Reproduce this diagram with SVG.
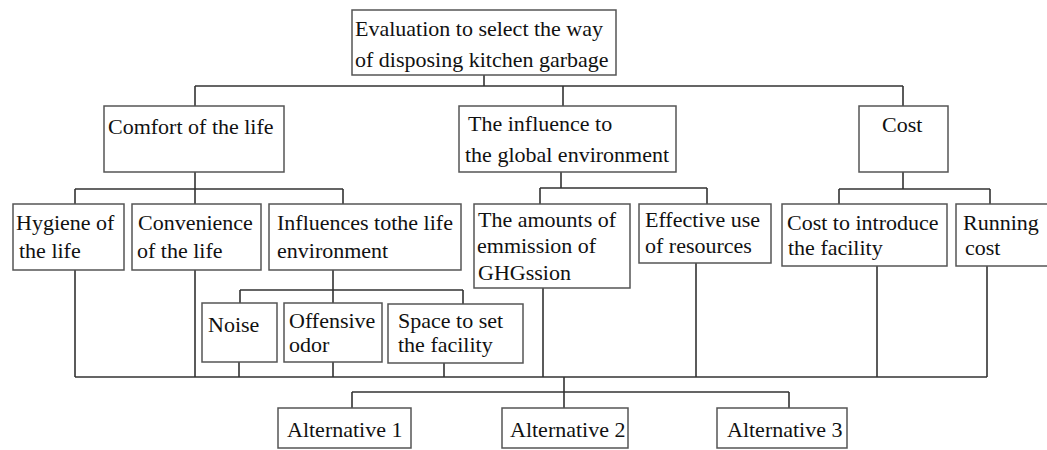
<svg xmlns="http://www.w3.org/2000/svg" width="1047" height="450" viewBox="0 0 1047 450">
<style>
.box{fill:#fff;stroke:#555;stroke-width:1.5}
.ln{fill:none;stroke:#333;stroke-width:1.6}
.t{font-size:22px;fill:#111}
</style>
<rect width="1047" height="450" fill="#fff"/>
<g id="connectors">
<path class="ln" d="M484 75V86M195 86H903M195 86V106M563 86V106M903 86V106"/>
<path class="ln" d="M195 172V189M75 189H343M75 189V204M195 189V204M343 189V204"/>
<path class="ln" d="M561 172V188M540 188H707M540 188V204M707 188V204"/>
<path class="ln" d="M903 172V189M839 189H990M839 189V204M990 189V204"/>
<path class="ln" d="M333 270V290M240 290H463M240 290V303M333 290V303M463 290V304"/>
<path class="ln" d="M75 270V377M195 270V377M239 362V377M333 362V377M444 363V377M543 288V377M696 263V377M877 266V377M987 266V377M75 377H987"/>
<path class="ln" d="M564 377V408M352 392H789M352 392V408M789 392V408"/>
</g>
<g class="t" font-family="'Liberation Serif', 'DejaVu Serif', serif">
<g id="n-goal"><rect class="box" x="352" y="10" width="264" height="65"/><text x="355" y="36">Evaluation to select the way</text><text x="355" y="67">of disposing kitchen garbage</text></g>
<g id="n-comfort"><rect class="box" x="104" y="106" width="180" height="66"/><text x="108" y="134">Comfort of the life</text></g>
<g id="n-global"><rect class="box" x="459" y="106" width="217" height="66"/><text x="468" y="131">The influence to</text><text x="465" y="162">the global environment</text></g>
<g id="n-cost"><rect class="box" x="859" y="106" width="89" height="66"/><text x="882" y="132">Cost</text></g>
<g id="n-hygiene"><rect class="box" x="13" y="204" width="111" height="66"/><text x="16" y="230">Hygiene of</text><text x="19" y="258">the life</text></g>
<g id="n-convenience"><rect class="box" x="132" y="204" width="129" height="66"/><text x="138" y="230">Convenience</text><text x="137" y="258">of the life</text></g>
<g id="n-influences"><rect class="box" x="269" y="204" width="192" height="66"/><text x="277" y="230">Influences tothe life</text><text x="277" y="258">environment</text></g>
<g id="n-ghg"><rect class="box" x="474" y="204" width="156" height="84"/><text x="478" y="227">The amounts of</text><text x="477" y="253">emmission of</text><text x="478" y="280">GHGssion</text></g>
<g id="n-effective"><rect class="box" x="639" y="204" width="132" height="59"/><text x="645" y="227">Effective use</text><text x="645" y="253">of resources</text></g>
<g id="n-introduce"><rect class="box" x="782" y="204" width="165" height="62"/><text x="787" y="230">Cost to introduce</text><text x="788" y="255">the facility</text></g>
<g id="n-running"><rect class="box" x="956" y="204" width="100" height="62"/><text x="963" y="230">Running</text><text x="965" y="255">cost</text></g>
<g id="n-noise"><rect class="box" x="202" y="303" width="75" height="59"/><text x="208" y="332">Noise</text></g>
<g id="n-odor"><rect class="box" x="284" y="303" width="98" height="59"/><text x="289" y="328">Offensive</text><text x="289" y="352">odor</text></g>
<g id="n-space"><rect class="box" x="388" y="304" width="135" height="59"/><text x="398" y="328">Space to set</text><text x="398" y="352">the facility</text></g>
<g id="n-alt1"><rect class="box" x="278" y="408" width="133" height="40"/><text x="287" y="437">Alternative 1</text></g>
<g id="n-alt2"><rect class="box" x="502" y="408" width="126" height="40"/><text x="510" y="437">Alternative 2</text></g>
<g id="n-alt3"><rect class="box" x="717" y="408" width="130" height="40"/><text x="727" y="437">Alternative 3</text></g>
</g>
</svg>
